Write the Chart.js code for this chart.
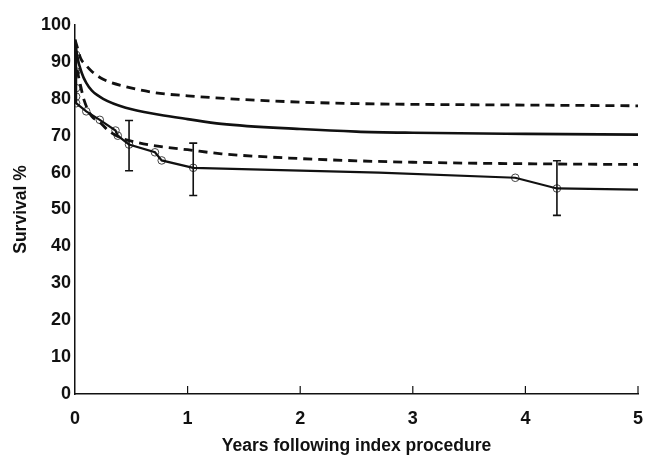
<!DOCTYPE html>
<html>
<head>
<meta charset="utf-8">
<script src="https://cdn.jsdelivr.net/npm/chart.js@4"></script>
<style>
  html, body { margin: 0; padding: 0; background: #fff; }
  #wrap { width: 646px; height: 455px; }
</style>
</head>
<body>
<div id="wrap"><canvas id="chart" width="646" height="455"></canvas></div>
<script>
// upper confidence limit (dashed)
const upperX = [0, 0.02, 0.05, 0.1, 0.15, 0.25, 0.45, 0.7, 1, 1.5, 2, 2.5, 3, 4, 5];
const upperY = [96, 94, 91, 89, 87.4, 85.3, 83.3, 81.7, 80.8, 79.8, 79.1, 78.7, 78.5, 78.3, 78.1];

// fitted survival (solid smooth)
const fitX = [0, 0.02, 0.06, 0.1, 0.15, 0.25, 0.45, 0.75, 1, 1.3, 2, 2.5, 3, 4, 5];
const fitY = [96, 91.5, 87, 84.3, 82.2, 80, 77.6, 75.7, 74.5, 73.2, 71.8, 71.1, 70.8, 70.5, 70.3];

// lower confidence limit (dashed)
const lowerX = [0, 0.02, 0.05, 0.08, 0.15, 0.21, 0.3, 0.4, 0.55, 0.75, 1, 1.3, 2, 2.5, 3, 4, 5];
const lowerY = [92, 87.8, 83.5, 79.7, 75.2, 73.9, 71.3, 69.5, 68.2, 67.1, 66.2, 65.1, 63.8, 63.2, 62.8, 62.4, 62.2];

// Kaplan-Meier estimate
const kmX = [0, 0.01, 0.01, 0.10, 0.22, 0.36, 0.38, 0.48, 0.71, 0.77, 1.05, 2.7, 3.91, 4.28, 5];
const kmY = [93, 91.9, 78.8, 76.6, 74.3, 71.4, 70.0, 67.6, 65.5, 63.3, 61.3, 60.0, 58.6, 55.7, 55.4];

// censoring circles
const markX = [0.01, 0.01, 0.01, 0.01, 0.01, 0.10, 0.22, 0.36, 0.38, 0.48, 0.71, 0.77, 1.05, 3.91, 4.28];
const markY = [91.9, 87.4, 82.9, 80.6, 78.8, 76.6, 74.3, 71.4, 70.0, 67.6, 65.5, 63.3, 61.3, 58.6, 55.7];

// error bars on the KM curve
const errX = [0.48, 1.05, 4.28];
const errLow = [60.5, 53.8, 48.4];
const errHigh = [74.1, 68.0, 63.2];

const xTicks = [0, 1, 2, 3, 4, 5];

const pts = (xs, ys) => xs.map((x, i) => ({ x: x, y: ys[i] }));
const FONT = "'Liberation Sans', Arial, sans-serif";
const INK = '#111';

const extras = {
  id: 'extras',
  afterDatasetsDraw(chart) {
    const ctx = chart.ctx;
    const xs = chart.scales.x, ys = chart.scales.y;
    ctx.save();
    ctx.strokeStyle = INK;
    ctx.lineWidth = 1.6;
    errX.forEach((x, i) => {
      const px = xs.getPixelForValue(x);
      const top = ys.getPixelForValue(errHigh[i]);
      const bot = ys.getPixelForValue(errLow[i]);
      ctx.beginPath();
      ctx.moveTo(px, top); ctx.lineTo(px, bot);
      ctx.moveTo(px - 4, top); ctx.lineTo(px + 4, top);
      ctx.moveTo(px - 4, bot); ctx.lineTo(px + 4, bot);
      ctx.stroke();
    });
    // inward tick marks on the x axis
    const base = ys.getPixelForValue(0);
    ctx.lineWidth = 1.2;
    xTicks.slice(1).forEach(t => {
      const px = xs.getPixelForValue(t);
      ctx.beginPath();
      ctx.moveTo(px, base); ctx.lineTo(px, base - 8);
      ctx.stroke();
    });
    ctx.restore();
  }
};

new Chart(document.getElementById('chart').getContext('2d'), {
  type: 'scatter',
  data: {
    datasets: [
      {
        data: pts(upperX, upperY),
        showLine: true, borderColor: INK, borderWidth: 2.8, borderDash: [9, 6],
        pointRadius: 0, cubicInterpolationMode: 'monotone'
      },
      {
        data: pts(fitX, fitY),
        showLine: true, borderColor: INK, borderWidth: 2.6,
        pointRadius: 0, cubicInterpolationMode: 'monotone'
      },
      {
        data: pts(lowerX, lowerY),
        showLine: true, borderColor: INK, borderWidth: 2.8, borderDash: [9, 6],
        pointRadius: 0, cubicInterpolationMode: 'monotone'
      },
      {
        data: pts(kmX, kmY),
        showLine: true, borderColor: INK, borderWidth: 2.2,
        pointRadius: 0, tension: 0
      },
      {
        data: pts(markX, markY),
        showLine: false, pointStyle: 'circle', pointRadius: 3.8,
        pointBackgroundColor: 'rgba(0,0,0,0)', pointBorderColor: '#444', pointBorderWidth: 1
      }
    ]
  },
  options: {
    responsive: false,
    animation: false,
    layout: { padding: { top: 25, right: 0, left: 0, bottom: 0 } },
    plugins: { legend: { display: false }, tooltip: { enabled: false } },
    scales: {
      x: {
        type: 'linear', min: 0, max: 5,
        afterFit: s => { s.height = 61; s.paddingRight = 8; s.paddingLeft = 0; },
        afterBuildTicks: s => { s.ticks = xTicks.map(v => ({ value: v })); },
        grid: { display: false, drawTicks: false },
        border: { display: true, color: INK, width: 1.5 },
        ticks: { padding: 14, color: INK, font: { family: FONT, size: 18, weight: 'bold' } },
        title: {
          display: true, text: 'Years following index procedure', color: INK,
          font: { family: FONT, size: 17.5, weight: 'bold' }, padding: { top: 0, bottom: -2 }
        }
      },
      y: {
        min: 0, max: 100,
        afterFit: s => { s.width = 75; },
        grid: { display: false, drawTicks: false },
        border: { display: true, color: INK, width: 1.5 },
        ticks: { stepSize: 10, padding: 4, color: INK, font: { family: FONT, size: 18, weight: 'bold' } },
        title: {
          display: true, text: 'Survival %', color: INK,
          font: { family: FONT, size: 17.5, weight: 'bold' }, padding: { top: 11, bottom: 0 }
        }
      }
    }
  },
  plugins: [extras]
});
</script>
</body>
</html>
